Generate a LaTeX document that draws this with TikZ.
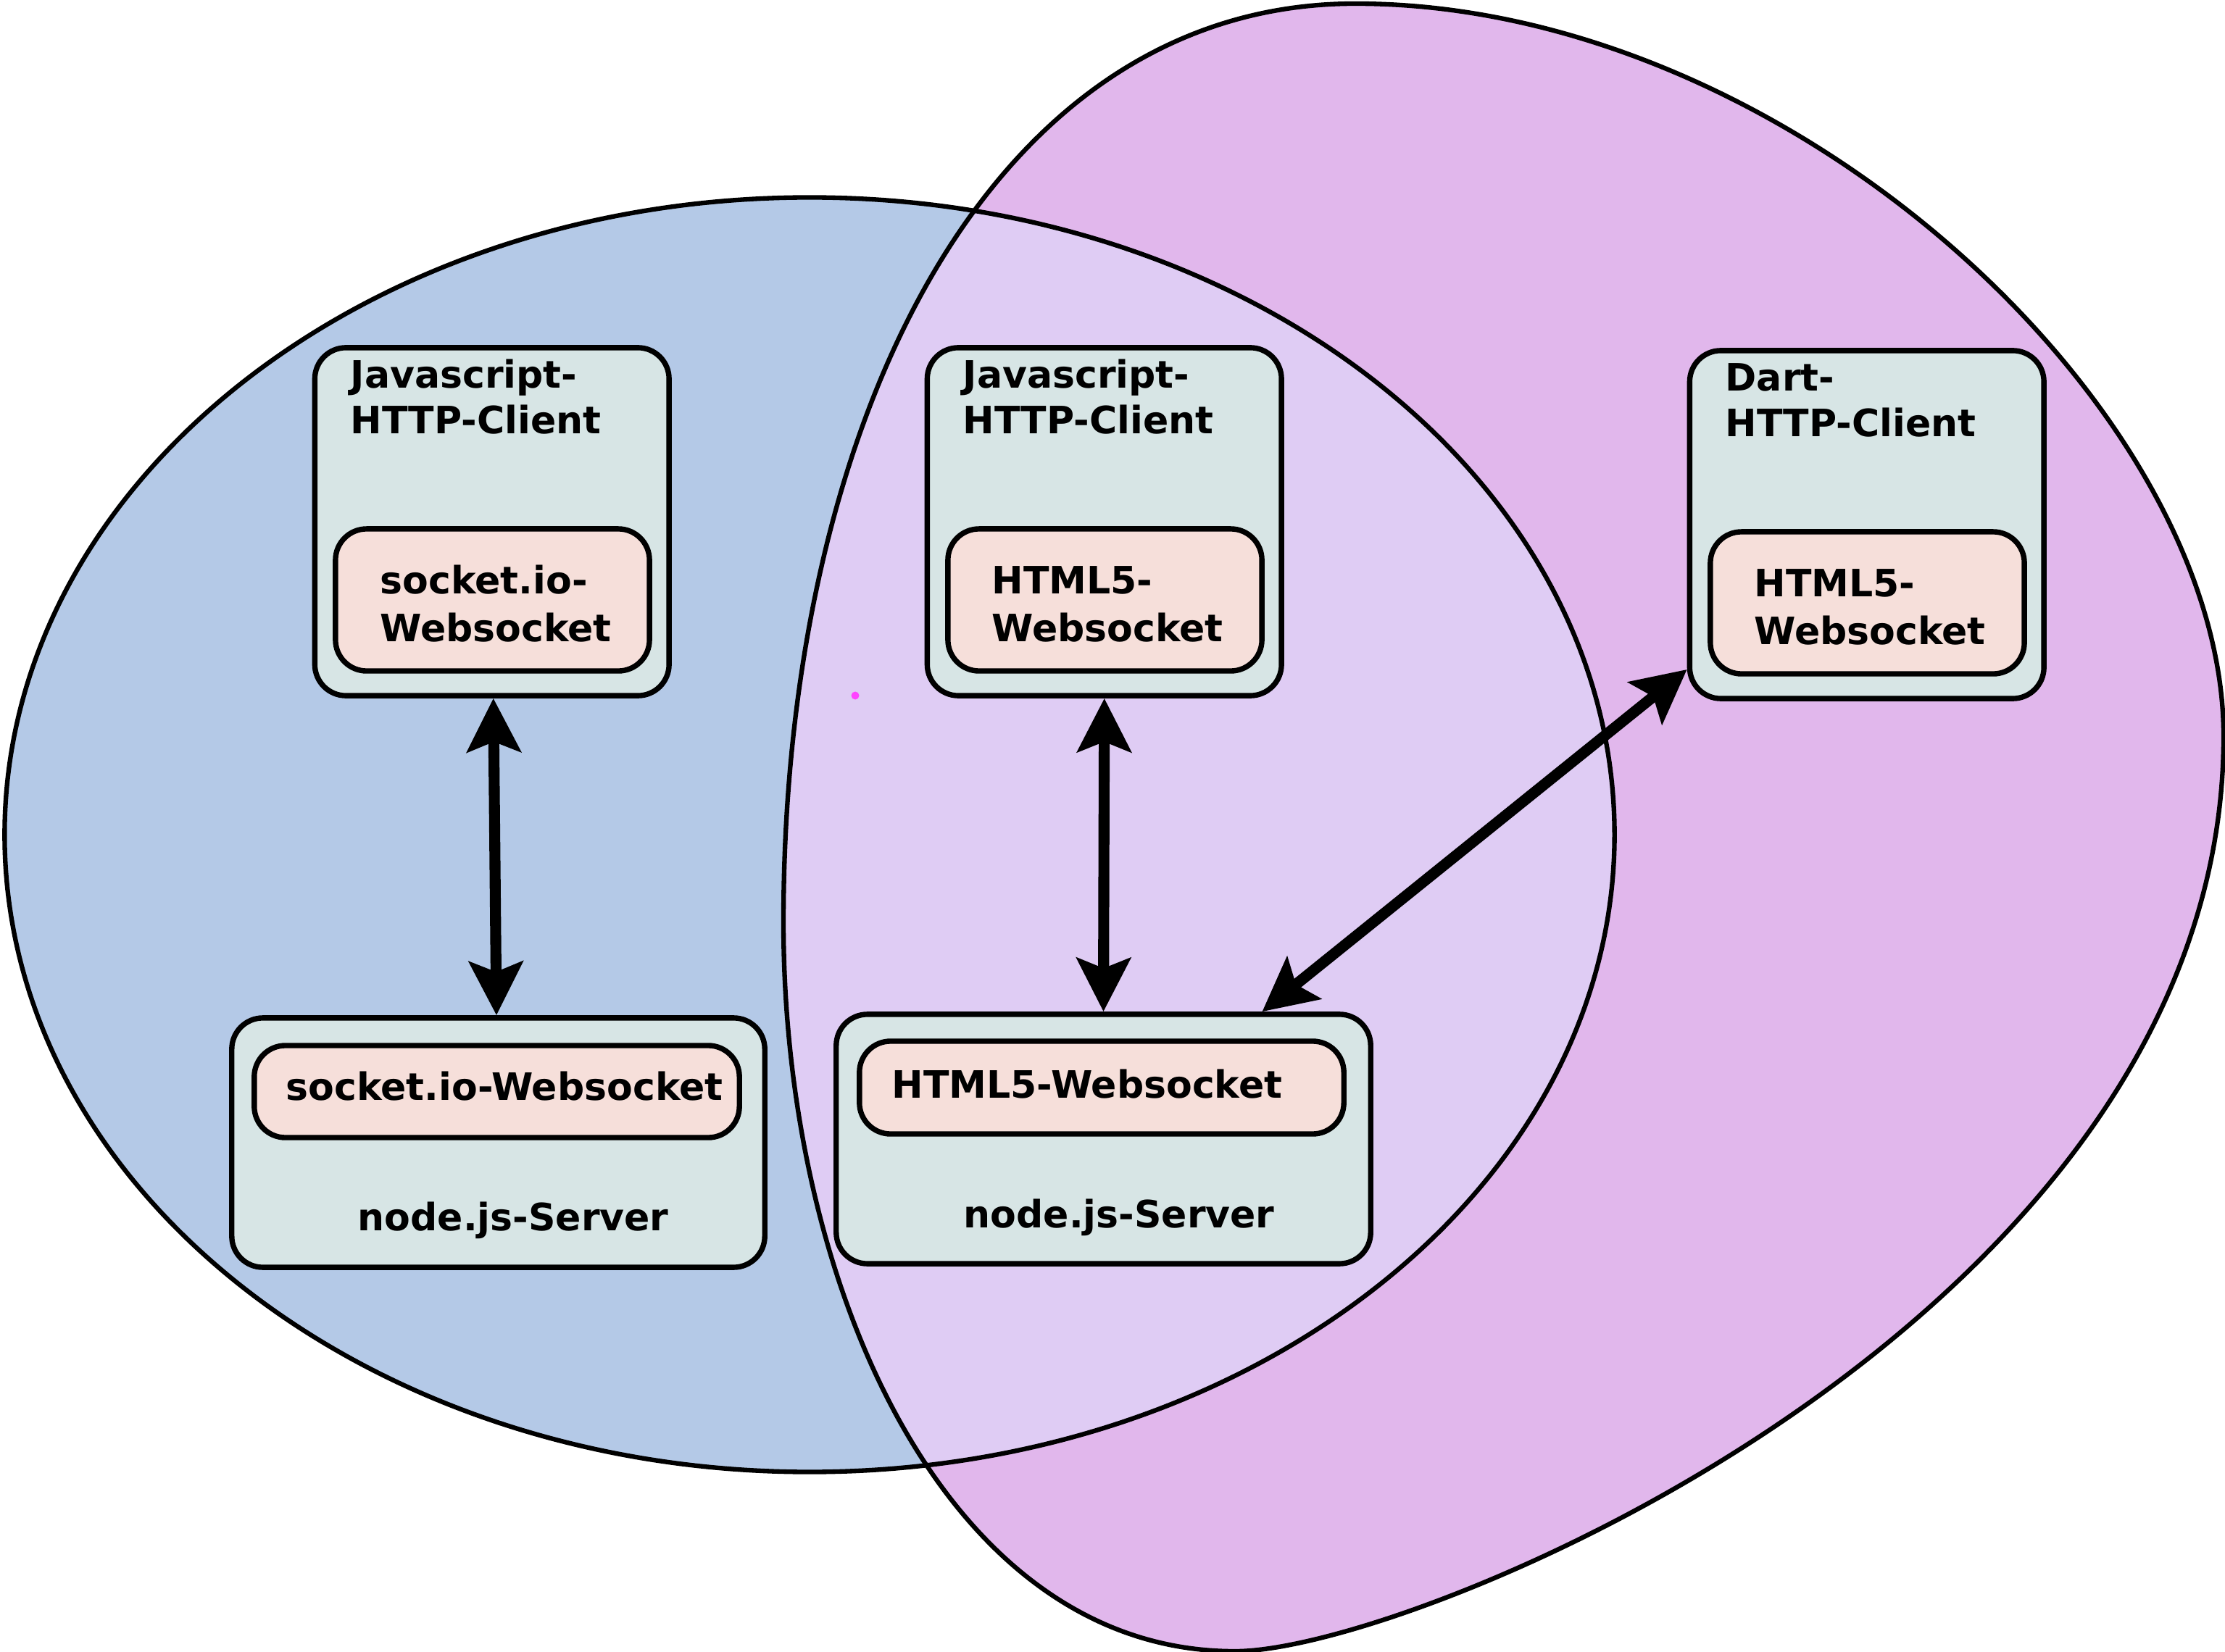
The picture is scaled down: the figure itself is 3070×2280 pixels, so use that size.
\documentclass[tikz,border=0pt]{standalone}
\usepackage{fontspec}
\setmainfont{DejaVu Sans}
\usetikzlibrary{arrows.meta,calc}
\definecolor{ellblue}{HTML}{B4C9E7}
\definecolor{blobpurple}{HTML}{E1B7EC}
\definecolor{overlapc}{HTML}{DFCCF4}
\definecolor{boxfill}{HTML}{D7E5E5}
\definecolor{innerfill}{HTML}{F6DFDA}
\definecolor{dotmag}{HTML}{FF44FF}
\begin{document}
\begin{tikzpicture}[x=0.01cm,y=-0.01cm,
  shapeline/.style={draw=black, line width=1.8pt},
  boxstyle/.style={draw=black, line width=2.1pt, rounded corners=0.43cm, inner sep=0pt, fill=boxfill},
  innerbox/.style={boxstyle, fill=innerfill},
  txt/.style={inner sep=0pt, anchor=base west, font=\fontsize{14.8pt}{18pt}\selectfont\bfseries},
  arr/.style={line width=4.3pt, {Stealth[length=21pt,width=21pt,inset=4pt]}-{Stealth[length=21pt,width=21pt,inset=4pt]}}
]
\useasboundingbox (0,0) rectangle (3070,2280);
\fill[white] (0,0) rectangle (3070,2280);

% fills
\fill[ellblue] (1117,1152) ellipse [x radius=11.1cm, y radius=8.79cm];
\fill[blobpurple] (1870,5) .. controls (2470,5) and (3068,566) .. (3068,1016)
  .. controls (3068,1816) and (1954,2279) .. (1704,2279)
  .. controls (1304,2279) and (1081,1773) .. (1081,1273)
  .. controls (1081,573) and (1370,5) .. (1870,5) -- cycle;
\begin{scope}
  \clip (1117,1152) ellipse [x radius=11.1cm, y radius=8.79cm];
  \fill[overlapc] (1870,5) .. controls (2470,5) and (3068,566) .. (3068,1016)
  .. controls (3068,1816) and (1954,2279) .. (1704,2279)
  .. controls (1304,2279) and (1081,1773) .. (1081,1273)
  .. controls (1081,573) and (1370,5) .. (1870,5) -- cycle;
\end{scope}
% outlines
\draw[shapeline] (1117,1152) ellipse [x radius=11.1cm, y radius=8.79cm];
\draw[shapeline] (1870,5) .. controls (2470,5) and (3068,566) .. (3068,1016)
  .. controls (3068,1816) and (1954,2279) .. (1704,2279)
  .. controls (1304,2279) and (1081,1773) .. (1081,1273)
  .. controls (1081,573) and (1370,5) .. (1870,5) -- cycle;

\node[circle, fill=dotmag, inner sep=0pt, minimum size=0.11cm] (dot) at (1180,960) {};

% client boxes
\node[boxstyle, minimum width=4.885cm, minimum height=4.8cm] (c1) at (678.75,720) {};
\node[innerbox, minimum width=4.33cm, minimum height=1.96cm] (c1i) at (679.5,828) {};
\node[boxstyle, minimum width=4.885cm, minimum height=4.8cm] (c2) at (1523.75,720) {};
\node[innerbox, minimum width=4.33cm, minimum height=1.96cm] (c2i) at (1524.5,828) {};
\node[boxstyle, minimum width=4.885cm, minimum height=4.8cm] (c3) at (2575.75,724) {};
\node[innerbox, minimum width=4.33cm, minimum height=1.96cm] (c3i) at (2576.5,832) {};

% server boxes
\node[boxstyle, minimum width=7.35cm, minimum height=3.44cm] (s1) at (687.5,1577) {};
\node[innerbox, minimum width=6.69cm, minimum height=1.27cm] (s1i) at (685.5,1506.5) {};
\node[boxstyle, minimum width=7.37cm, minimum height=3.44cm] (s2) at (1522.5,1572) {};
\node[innerbox, minimum width=6.68cm, minimum height=1.28cm] (s2i) at (1520,1501) {};

% texts
\node[txt] (c1a) at (483,536) {Javascript-};
\node[txt] (c1b) at (483,599) {HTTP-Client};
\node[txt] (c1c) at (524,820) {socket.io-};
\node[txt] (c1d) at (524,886) {Websocket};

\node[txt] (c2a) at (1328,536) {Javascript-};
\node[txt] (c2b) at (1328,599) {HTTP-Client};
\node[txt] (c2c) at (1368,820) {HTML5-};
\node[txt] (c2d) at (1368,886) {Websocket};

\node[txt] (c3a) at (2380,540) {Dart-};
\node[txt] (c3b) at (2380,603) {HTTP-Client};
\node[txt] (c3c) at (2420,824) {HTML5-};
\node[txt] (c3d) at (2420,890) {Websocket};

\node[txt] (s1a) at (394,1518) {socket.io-Websocket};
\node[txt] (s1b) at (493,1698) {node.js-Server};
\node[txt] (s2a) at (1230,1515) {HTML5-Websocket};
\node[txt] (s2b) at (1329,1694) {node.js-Server};

% arrows
\draw[arr] ($(c1.south)+(2,0)$) -- ($(s1.north)+(-2.5,0)$);
\draw[arr] (c2.south) -- (s2.north);
\draw[arr] ($(c3.west)!0.82!(c3.south west)$) -- ($(s2.north west)!0.794!(s2.north east)$);
\end{tikzpicture}
\end{document}
